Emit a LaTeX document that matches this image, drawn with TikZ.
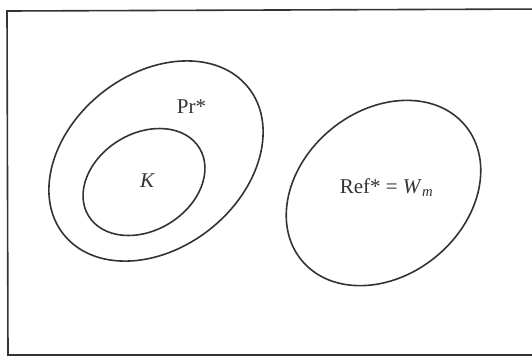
\documentclass[tikz,border=0pt]{standalone}
\usepackage{fontspec}
\setmainfont{Liberation Serif}
\begin{document}
\begin{tikzpicture}[x=1pt,y=-1pt,
  setline/.style={draw=black!80,line width=1.6pt},
  lbl/.style={font=\fontsize{21}{24}\selectfont,text=black!80,inner sep=0pt}]
\useasboundingbox (0,0) rectangle (532,357);
\fill[white] (0,0) rectangle (532,357);
% frame (right edge cut off)
\draw[setline] (545,9) -- (7,11) -- (8,355) -- (545,355);
% Pr* ellipse
\draw[setline,rotate around={38.4:(156,161)}] (156,161) ellipse [x radius=118, y radius=87];
% K ellipse
\draw[setline,rotate around={31.4:(144,182)}] (144,182) ellipse [x radius=65, y radius=48.5];
% Ref* ellipse
\draw[setline,rotate around={39.3:(383.5,193)}] (383.5,193) ellipse [x radius=106, y radius=82.5];
\node[lbl] (pr) at (191.5,107) {Pr*};
\node[lbl] (k) at (147.5,181) {\textit{K}};
\node[lbl] (ref) at (386.5,188) {Ref* = \textit{W}\textsubscript{\textit{m}}};
\end{tikzpicture}
\end{document}
